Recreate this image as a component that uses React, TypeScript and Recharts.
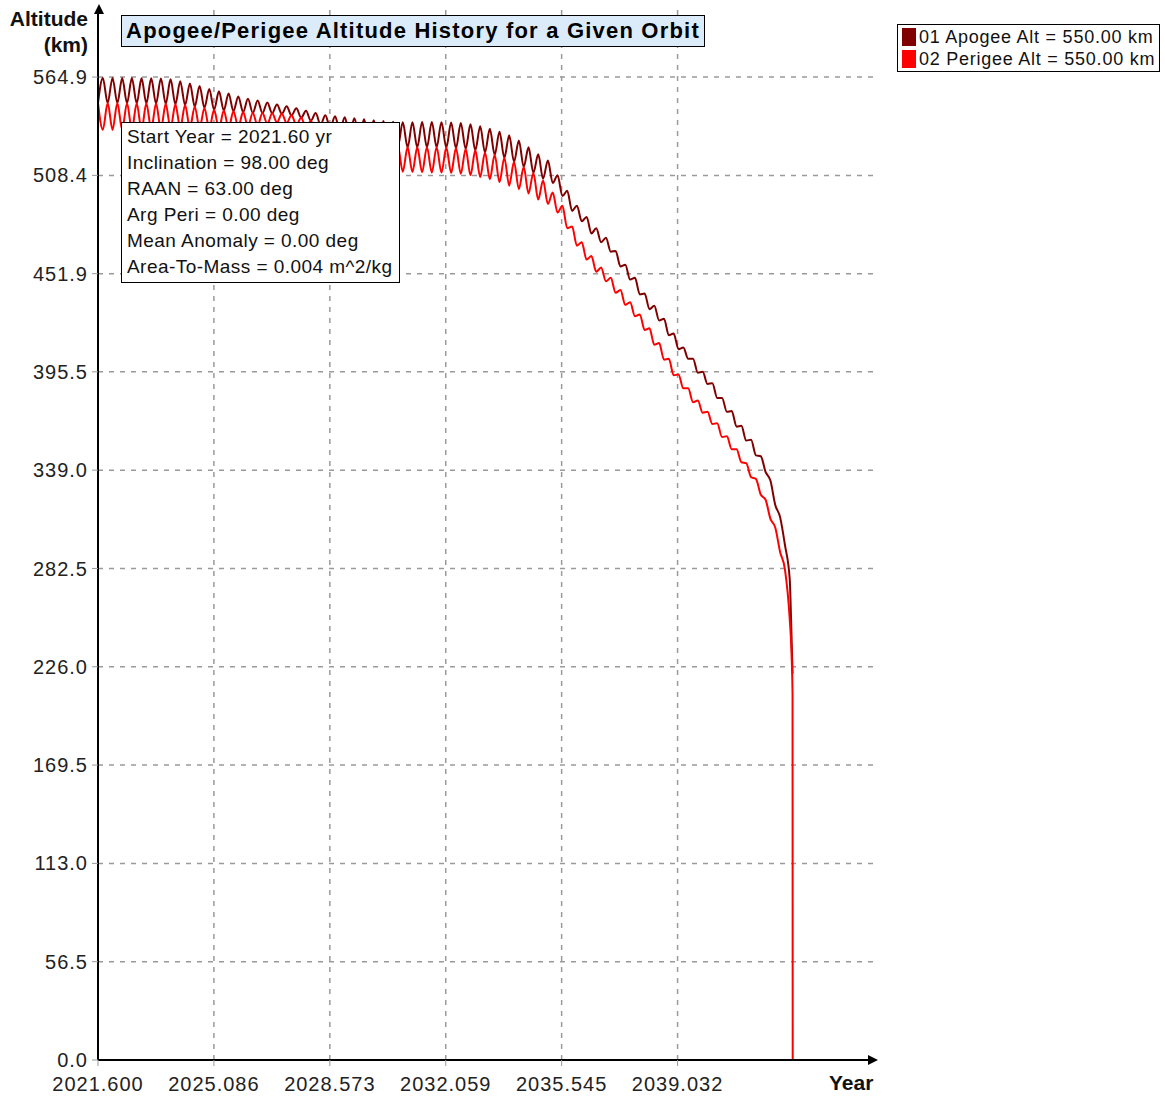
import React from "react";
import { LineChart, Line, XAxis, YAxis, ReferenceLine } from "recharts";

const FONT = "'Liberation Sans', Arial, sans-serif";

// output is sampled every half oscillation of the eccentricity
const START_YEAR = 2021.6;
const STEP = 0.1455;

// apogee altitude, km
const APOGEE = [
  550.0, 564.3, 550.0, 564.4, 550.0, 564.3, 549.9, 564.3, 549.8, 564.2,
  549.8, 564.2, 549.7, 564.1, 549.5, 563.6, 549.3, 562.5, 548.8, 561.2,
  548.0, 559.8, 547.2, 558.1, 546.1, 556.7, 545.7, 555.5, 545.3, 553.8,
  544.8, 552.4, 544.3, 551.4, 544.2, 550.3, 544.1, 549.1, 543.8, 548.1,
  542.9, 547.0, 541.5, 545.6, 539.8, 544.2, 537.5, 543.0, 535.7, 542.4,
  533.8, 541.8, 532.0, 541.3, 530.5, 540.7, 528.8, 540.1, 527.5, 539.6,
  526.2, 539.2, 525.0, 539.0, 524.5, 539.0, 524.5, 539.1, 524.6, 539.1,
  524.6, 539.0, 524.4, 538.8, 524.1, 538.5, 523.6, 537.8, 522.8, 536.6,
  521.6, 535.2, 520.2, 533.5, 518.5, 531.5, 516.2, 528.5, 513.2, 524.5,
  509.8, 520.5, 506.5, 517.0, 504.0, 508.5, 496.5, 499.5, 488.0, 491.0,
  482.0, 484.5, 475.0, 478.0, 470.0, 472.5, 464.5, 465.0, 456.0, 457.0,
  448.5, 449.5, 440.0, 440.5, 431.5, 433.5, 425.0, 426.0, 416.5, 417.5,
  408.5, 409.5, 403.0, 403.0, 395.0, 395.5, 388.5, 389.0, 380.5, 380.5,
  372.5, 373.0, 364.0, 364.5, 356.0, 356.5, 347.5, 347.0, 338.0, 333.0,
  319.0, 312.0, 296.0, 276.0,
];

// perigee altitude, km
const PERIGEE = [
  550.0, 534.6, 550.0, 534.5, 550.0, 534.6, 549.9, 534.5, 549.8, 534.6,
  549.8, 534.7, 549.7, 534.8, 549.5, 535.2, 549.3, 535.5, 548.8, 535.6,
  548.0, 535.4, 547.2, 535.1, 546.1, 535.1, 545.7, 535.5, 545.3, 536.2,
  544.8, 536.6, 544.3, 537.0, 544.2, 537.9, 544.1, 538.9, 543.8, 538.5,
  542.9, 537.4, 541.5, 535.6, 539.8, 533.0, 537.5, 530.2, 535.7, 527.0,
  533.8, 524.0, 532.0, 521.1, 530.5, 518.5, 528.8, 516.1, 527.5, 514.0,
  526.2, 512.0, 525.0, 510.5, 524.5, 510.3, 524.5, 510.2, 524.6, 510.1,
  524.6, 510.0, 524.4, 509.8, 524.1, 509.3, 523.6, 508.5, 522.8, 507.4,
  521.6, 506.2, 520.2, 504.5, 518.5, 502.5, 516.2, 500.5, 513.2, 498.0,
  509.8, 494.5, 505.5, 492.0, 498.5, 487.0, 491.0, 478.0, 479.0, 468.0,
  470.0, 460.0, 462.0, 453.0, 455.5, 447.5, 449.5, 441.0, 442.5, 434.0,
  435.5, 427.5, 428.5, 419.5, 420.5, 411.0, 412.0, 402.5, 403.0, 393.5,
  394.0, 386.0, 386.0, 378.0, 379.0, 372.0, 372.5, 365.5, 366.0, 358.0,
  358.5, 351.0, 351.0, 343.5, 343.0, 335.0, 334.0, 325.0, 322.0, 311.0,
  306.0, 292.0, 282.0, 253.0,
];

// re-entry
const TAIL_YEARS = [2042.45, 2042.49, 2042.495];
const TAIL_APOGEE = [250, 222, null];
const TAIL_PERIGEE = [238, 210, 0];

const X_DOMAIN = [2021.6, 2044.97];
const X_TICKS = [2021.6, 2025.086, 2028.573, 2032.059, 2035.545, 2039.032];
const Y_DOMAIN = [0, 604.6];
const Y_TICKS = [0, 56.5, 113.0, 169.5, 226.0, 282.5, 339.0, 395.5, 451.9, 508.4, 564.9];

const TITLE = "Apogee/Perigee Altitude History for a Given Orbit";
const INFO_LINES = [
  "Start Year = 2021.60 yr",
  "Inclination = 98.00 deg",
  "RAAN = 63.00 deg",
  "Arg Peri = 0.00 deg",
  "Mean Anomaly = 0.00 deg",
  "Area-To-Mass = 0.004 m^2/kg",
];

const SERIES = [
  { key: "apogee", name: "01 Apogee Alt = 550.00 km", color: "#800000" },
  { key: "perigee", name: "02 Perigee Alt = 550.00 km", color: "#ff0000" },
];

const rows = [
  ...APOGEE.map((a, i) => ({
    year: START_YEAR + i * STEP,
    apogee: a,
    perigee: PERIGEE[i],
  })),
  ...TAIL_YEARS.map((y, i) => ({
    year: y,
    apogee: TAIL_APOGEE[i],
    perigee: TAIL_PERIGEE[i],
  })),
];

const tickStyle = { fontSize: 20, fill: "#222", fontFamily: FONT, letterSpacing: 1 };
const gridStyle = { stroke: "#9a9a9a", strokeDasharray: "5 6", strokeWidth: 1.5 };

export default function App() {
  return (
    <div style={{ position: "relative", width: 1165, height: 1099, background: "#fff", fontFamily: FONT }}>
      <style>{"body{margin:0}"}</style>
      <LineChart
        width={1165}
        height={1099}
        data={rows}
        margin={{ top: 8, right: 290, bottom: 0, left: 0 }}
      >
        <XAxis
          dataKey="year"
          type="number"
          domain={X_DOMAIN}
          ticks={X_TICKS}
          interval={0}
          height={39}
          tickFormatter={(v: number) => v.toFixed(3)}
          tick={tickStyle}
          tickSize={6}
          tickMargin={11}
          tickLine={{ stroke: "#999" }}
          axisLine={{ stroke: "#000", strokeWidth: 2 }}
        />
        <YAxis
          type="number"
          domain={Y_DOMAIN}
          ticks={Y_TICKS}
          interval={0}
          width={98}
          tickFormatter={(v: number) => v.toFixed(1)}
          tick={tickStyle}
          tickSize={6}
          tickMargin={4}
          tickLine={{ stroke: "#999" }}
          axisLine={{ stroke: "#000", strokeWidth: 2 }}
        />
        {/* dashed grid on the labelled ticks only */}
        {X_TICKS.slice(1).map((t) => (
          <ReferenceLine key={"vx" + t} x={t} {...gridStyle} />
        ))}
        {Y_TICKS.slice(1).map((t) => (
          <ReferenceLine key={"hy" + t} y={t} {...gridStyle} />
        ))}
        {SERIES.map((s) => (
          <Line
            key={s.key}
            type="monotone"
            dataKey={s.key}
            name={s.name}
            stroke={s.color}
            strokeWidth={2}
            dot={false}
            isAnimationActive={false}
          />
        ))}
      </LineChart>

      {/* axis arrows */}
      <svg width={1165} height={1099} style={{ position: "absolute", left: 0, top: 0, pointerEvents: "none" }}>
        <polygon points="94,14 99,4 104,14" fill="#000" />
        <polygon points="868,1055 878,1060 868,1065" fill="#000" />
      </svg>

      {/* axis titles */}
      <div style={{ position: "absolute", right: 1165 - 88, top: 6, fontWeight: 700, fontSize: 21, lineHeight: "26px", textAlign: "right", color: "#111" }}>
        Altitude
        <br />
        (km)
      </div>
      <div style={{ position: "absolute", left: 829, top: 1071, fontWeight: 700, fontSize: 21, color: "#111" }}>
        Year
      </div>

      {/* title */}
      <div
        style={{
          position: "absolute",
          left: 121,
          top: 15,
          width: 584,
          height: 32,
          boxSizing: "border-box",
          border: "1.5px solid #000",
          background: "#dcebfa",
          fontWeight: 700,
          fontSize: 22,
          letterSpacing: 1.2,
          lineHeight: "29px",
          textAlign: "center",
          whiteSpace: "nowrap",
        }}
      >
        {TITLE}
      </div>

      {/* orbit info */}
      <div
        style={{
          position: "absolute",
          left: 121,
          top: 122,
          width: 279,
          height: 161,
          boxSizing: "border-box",
          border: "1.5px solid #000",
          background: "#fff",
          padding: "1px 0 0 5px",
          fontSize: 19,
          letterSpacing: 0.45,
          lineHeight: "26px",
          color: "#111",
          whiteSpace: "nowrap",
        }}
      >
        {INFO_LINES.map((l) => (
          <div key={l}>{l}</div>
        ))}
      </div>

      {/* legend */}
      <div
        style={{
          position: "absolute",
          left: 897,
          top: 24,
          width: 263,
          height: 48,
          boxSizing: "border-box",
          border: "1.5px solid #000",
          background: "#fff",
          padding: "1px 0 0 4px",
        }}
      >
        {SERIES.map((s) => (
          <div key={s.key} style={{ display: "flex", alignItems: "center", height: 22 }}>
            <div style={{ width: 14, height: 18, background: s.color, marginRight: 3 }} />
            <span style={{ fontSize: 18, letterSpacing: 0.75, color: "#111" }}>{s.name}</span>
          </div>
        ))}
      </div>
    </div>
  );
}
